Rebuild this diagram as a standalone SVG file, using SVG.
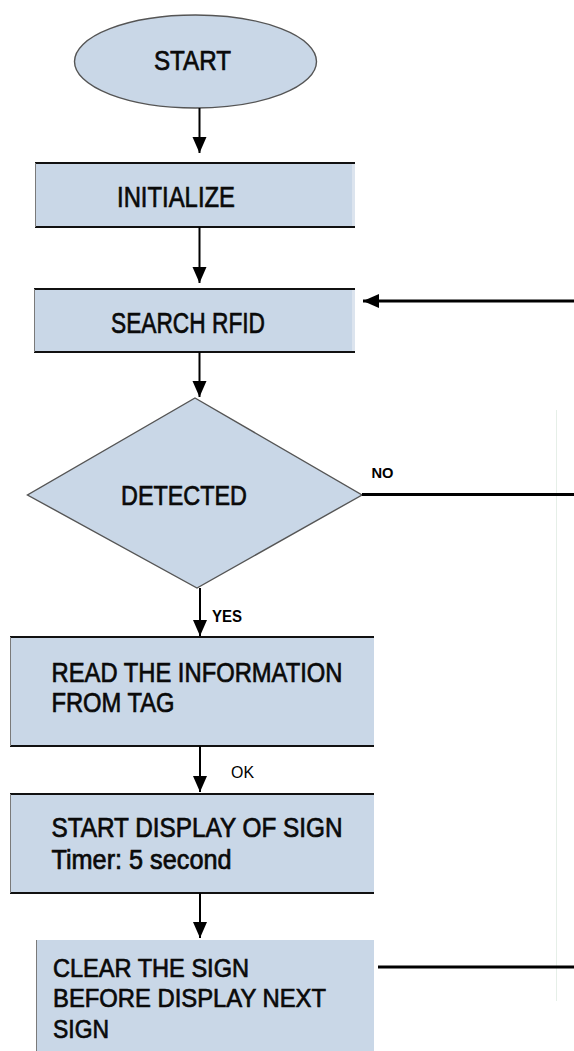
<svg xmlns="http://www.w3.org/2000/svg" width="574" height="1051" viewBox="0 0 574 1051">
  <style>
    .fill { fill: #c9d7e7; }
    .edge { stroke: #111; stroke-width: 2; }
    .side { stroke: #7a7a7a; stroke-width: 1; }
    .shape { fill: #c9d7e7; stroke: #555; stroke-width: 1.4; }
    .lbl { font-family: "Liberation Sans", Arial, sans-serif; fill: #0a0a0a; stroke: #0a0a0a; stroke-width: 0.7; }
    .tag { font-family: "Liberation Sans", Arial, sans-serif; fill: #000; }
    .flow { stroke: #000; stroke-width: 2; fill: none; }
    .loop { stroke: #000; stroke-width: 3; fill: none; }
  </style>
  <defs>
    <marker id="head" markerUnits="userSpaceOnUse" markerWidth="17" markerHeight="15" refX="16" refY="7" orient="auto">
      <path d="M0,0 L16,7 L0,14 z" fill="#000"/>
    </marker>
  </defs>

  <rect width="574" height="1051" fill="#fff"/>
  <!-- faint guide line on the right -->
  <line x1="556.5" y1="410" x2="556.5" y2="1001" stroke="#e6efe8" stroke-width="1"/>

  <g id="start">
    <ellipse class="shape" cx="195.5" cy="61.5" rx="121" ry="46.5"/>
    <text class="lbl" x="154" y="70" font-size="28" textLength="77" lengthAdjust="spacingAndGlyphs">START</text>
  </g>

  <g id="initialize">
    <rect class="fill" x="35" y="163" width="320" height="64"/>
    <rect x="352" y="163" width="3" height="64" fill="#dce4ee"/>
    <line class="edge" x1="35" y1="163" x2="355" y2="163"/>
    <line class="edge" x1="35" y1="227" x2="355" y2="227"/>
    <line class="side" x1="35.5" y1="163" x2="35.5" y2="227"/>
    <text class="lbl" x="117" y="207" font-size="30" textLength="118" lengthAdjust="spacingAndGlyphs">INITIALIZE</text>
  </g>

  <g id="search">
    <rect class="fill" x="34" y="289" width="321" height="63"/>
    <rect x="352" y="289" width="3" height="63" fill="#dce4ee"/>
    <line class="edge" x1="34" y1="289" x2="355" y2="289"/>
    <line class="edge" x1="34" y1="352" x2="355" y2="352"/>
    <line class="side" x1="34.5" y1="289" x2="34.5" y2="352"/>
    <text class="lbl" x="111" y="333" font-size="30" textLength="154" lengthAdjust="spacingAndGlyphs">SEARCH RFID</text>
  </g>

  <g id="detected">
    <polygon class="shape" points="195,398 362,495 197,588 27.5,495" stroke="#777" stroke-width="1.2"/>
    <text class="lbl" x="121" y="505" font-size="28" textLength="126" lengthAdjust="spacingAndGlyphs">DETECTED</text>
  </g>

  <g id="read">
    <rect class="fill" x="10" y="637" width="364" height="109"/>
    <line class="edge" x1="10" y1="637" x2="374" y2="637"/>
    <line class="edge" x1="10" y1="746" x2="374" y2="746"/>
    <line class="side" x1="10.5" y1="637" x2="10.5" y2="746"/>
    <text class="lbl" x="51.5" y="682" font-size="28" textLength="291" lengthAdjust="spacingAndGlyphs">READ THE INFORMATION</text>
    <text class="lbl" x="51.5" y="712" font-size="28" textLength="123" lengthAdjust="spacingAndGlyphs">FROM TAG</text>
  </g>

  <g id="display">
    <rect class="fill" x="10" y="794" width="364" height="99"/>
    <line class="edge" x1="10" y1="794" x2="374" y2="794"/>
    <line class="edge" x1="10" y1="893" x2="374" y2="893"/>
    <line class="side" x1="10.5" y1="794" x2="10.5" y2="893"/>
    <text class="lbl" x="51.5" y="837" font-size="27" textLength="291" lengthAdjust="spacingAndGlyphs">START DISPLAY OF SIGN</text>
    <text class="lbl" x="51.5" y="869" font-size="27" textLength="180" lengthAdjust="spacingAndGlyphs">Timer: 5 second</text>
  </g>

  <g id="clear">
    <rect class="fill" x="36" y="940" width="338" height="111"/>
    <line class="side" x1="36.5" y1="940" x2="36.5" y2="1051" stroke="#333"/>
    <text class="lbl" x="53" y="977" font-size="26" textLength="196" lengthAdjust="spacingAndGlyphs">CLEAR THE SIGN</text>
    <text class="lbl" x="53" y="1007" font-size="26" textLength="273" lengthAdjust="spacingAndGlyphs">BEFORE DISPLAY NEXT</text>
    <text class="lbl" x="53" y="1038" font-size="26" textLength="56" lengthAdjust="spacingAndGlyphs">SIGN</text>
  </g>

  <g id="connectors">
    <line class="flow" x1="199.5" y1="108" x2="199.5" y2="153" marker-end="url(#head)"/>
    <line class="flow" x1="199.5" y1="227" x2="199.5" y2="283" marker-end="url(#head)"/>
    <line class="flow" x1="199.5" y1="352" x2="199.5" y2="397" marker-end="url(#head)"/>
    <line class="flow" x1="200" y1="588" x2="200" y2="636" marker-end="url(#head)"/>
    <line class="flow" x1="200" y1="746" x2="200" y2="792" marker-end="url(#head)"/>
    <line class="flow" x1="200" y1="893" x2="200" y2="938" marker-end="url(#head)"/>
    <line class="loop" x1="574" y1="301" x2="363" y2="301" marker-end="url(#head)"/>
    <line class="loop" x1="362" y1="494.5" x2="574" y2="494.5"/>
    <line class="loop" x1="378" y1="967" x2="574" y2="967"/>
    <text class="tag" x="371.5" y="478" font-size="15" font-weight="bold" textLength="22" lengthAdjust="spacingAndGlyphs">NO</text>
    <text class="tag" x="212" y="622" font-size="16" font-weight="bold" textLength="30" lengthAdjust="spacingAndGlyphs">YES</text>
    <text class="tag" x="231" y="778" font-size="16" textLength="23" lengthAdjust="spacingAndGlyphs">OK</text>
  </g>
</svg>
